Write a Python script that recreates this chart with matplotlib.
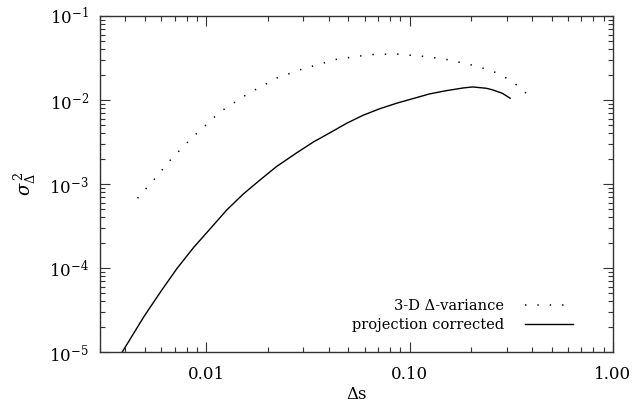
import matplotlib
matplotlib.use('Agg')
import matplotlib.pyplot as plt
from matplotlib.ticker import LogLocator, FixedLocator, FuncFormatter, NullFormatter

plt.rcParams['font.family'] = ['DejaVu Serif']
plt.rcParams['mathtext.fontset'] = 'dejavuserif'

# 3-D Delta-variance (dotted)
ds_3d = [0.00459, 0.00573, 0.00652, 0.00748, 0.00861, 0.0100, 0.0116, 0.0137,
         0.0162, 0.0194, 0.0220, 0.0300, 0.0438, 0.0637, 0.0861, 0.112, 0.146,
         0.205, 0.256, 0.298, 0.346, 0.387]
var_3d = [6.76e-4, 1.245e-3, 1.83e-3, 2.59e-3, 3.66e-3, 5.08e-3, 7.13e-3, 9.29e-3,
          0.0121, 0.0152, 0.0181, 0.0236, 0.0305, 0.0347, 0.0353, 0.0334, 0.0310,
          0.0259, 0.0221, 0.0183, 0.0144, 0.0111]

# projection corrected (solid)
ds_proj = [0.00386, 0.00493, 0.00596, 0.00718, 0.00867, 0.0105, 0.0126, 0.0152,
           0.0184, 0.0222, 0.0279, 0.0336, 0.0406, 0.0490, 0.0590, 0.0713, 0.0861,
           0.104, 0.125, 0.151, 0.183, 0.204, 0.238, 0.256, 0.286, 0.312]
var_proj = [1.0e-5, 2.63e-5, 5.21e-5, 9.9e-5, 1.76e-4, 2.97e-4, 4.90e-4, 7.60e-4,
            1.12e-3, 1.62e-3, 2.36e-3, 3.16e-3, 4.08e-3, 5.28e-3, 6.58e-3, 7.87e-3,
            9.14e-3, 0.0104, 0.0118, 0.0129, 0.0139, 0.0143, 0.0138, 0.0132, 0.0120,
            0.0105]

xticks = [0.01, 0.10, 1.00]

fig = plt.figure(figsize=(6.36, 4.07), dpi=100)
ax = fig.add_axes([0.1572, 0.1351, 0.8066, 0.8256])

ax.plot(ds_3d, var_3d, color='black', lw=1.1, linestyle=(0, (0.9, 7.2)),
        label='3-D \u0394-variance')
ax.plot(ds_proj, var_proj, color='black', lw=1.0, label='projection corrected')

ax.set_xscale('log')
ax.set_yscale('log')
ax.set_xlim(0.003, 1.0)
ax.set_ylim(1e-5, 1e-1)

ax.xaxis.set_major_locator(FixedLocator(xticks))
ax.xaxis.set_major_formatter(FuncFormatter(lambda v, p: '%.2f' % v))
ax.xaxis.set_minor_locator(LogLocator(base=10, subs=range(2, 10)))
ax.xaxis.set_minor_formatter(NullFormatter())
ax.yaxis.set_minor_locator(LogLocator(base=10, subs=range(2, 10)))
ax.yaxis.set_minor_formatter(NullFormatter())

ax.tick_params(which='both', direction='in', top=True, right=True,
               labelsize=12, color='#333333')
ax.tick_params(axis='x', which='major', pad=10)
ax.tick_params(axis='y', which='major', pad=8)
ax.tick_params(which='major', length=7.2, width=0.8)
ax.tick_params(which='minor', length=3.6, width=0.8)
for s in ax.spines.values():
    s.set_linewidth(1.0)
    s.set_color('#333333')

ax.set_xlabel('\u0394s', fontsize=12, labelpad=2)
ax.set_ylabel(r'$\sigma_\Delta^{\,2}$', fontsize=13, labelpad=8)

ax.legend(loc='lower right', bbox_to_anchor=(0.922, 0.06), frameon=False,
          markerfirst=False, fontsize=10.5, handlelength=3.3, handletextpad=1.4,
          labelspacing=0.35, borderpad=0, borderaxespad=0)

fig.savefig('out.png', dpi=100)
